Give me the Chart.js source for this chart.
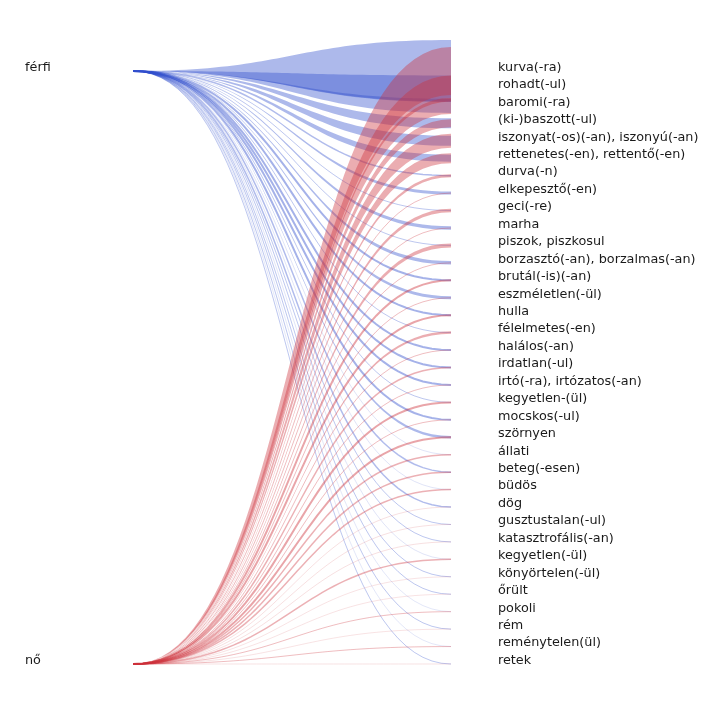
<!DOCTYPE html>
<html>
<head>
<meta charset="utf-8">
<script src="https://cdn.jsdelivr.net/npm/chart.js@4/dist/chart.umd.min.js"></script>
<style>
  html, body { margin: 0; background: #fff; }
</style>
</head>
<body>
<canvas id="flows" width="727" height="722"></canvas>
<script>
// sources on the left, targets on the right
const sources = ['férfi', 'nő'];
const targets = [
  'kurva(-ra)', 'rohadt(-ul)', 'baromi(-ra)', '(ki-)baszott(-ul)',
  'iszonyat(-os)(-an), iszonyú(-an)', 'rettenetes(-en), rettentő(-en)',
  'durva(-n)', 'elkepesztő(-en)', 'geci(-re)', 'marha', 'piszok, piszkosul',
  'borzasztó(-an), borzalmas(-an)', 'brutál(-is)(-an)', 'eszméletlen(-ül)',
  'hulla', 'félelmetes(-en)', 'halálos(-an)', 'irdatlan(-ul)',
  'irtó(-ra), irtózatos(-an)', 'kegyetlen-(ül)', 'mocskos(-ul)', 'szörnyen',
  'állati', 'beteg(-esen)', 'büdös', 'dög', 'gusztustalan(-ul)',
  'katasztrofális(-an)', 'kegyetlen(-ül)', 'könyörtelen(-ül)', 'őrült',
  'pokoli', 'rém', 'reménytelen(ül)', 'retek'
];

// flow sizes (férfi -> target, nő -> target)
const male   = [62, 26, 14, 10, 10, 7, 1.5, 3, 1, 3.5, 1, 3.5, 2, 3, 2, 1, 2, 2, 2, 1, 2, 2.5,
                0.5, 1.5, 0.5, 1.5, 1, 1, 0.5, 1, 1, 0.3, 1, 0.3, 1];
const female = [48, 26, 16, 8, 14, 10, 3, 1, 3.5, 1, 4, 1, 2, 1, 2, 2.5, 1, 1.5, 1, 2, 1, 2,
                1.5, 1.5, 1.5, 0.5, 0.5, 0.5, 1.5, 0.3, 0.3, 1, 0.3, 1, 0.3];

const colors = ['50, 80, 205', '205, 50, 60'];
const sourceRow = [0, targets.length - 1];
const valueToRows = 1 / 17.44;

// cubic bezier, horizontal at both ends
function curve(y0, y1) {
  const pts = [];
  for (let k = 0; k <= 48; k++) {
    const t = k / 48;
    pts.push({ x: 1.5 * t * (1 - t) + t * t * t, y: y0 + (y1 - y0) * (3 * t * t - 2 * t * t * t) });
  }
  return pts;
}

const datasets = [];
[male, female].forEach(function(values, s) {
  values.forEach(function(v, i) {
    const h = v * valueToRows;
    if (v >= 2.5) {
      datasets.push({ data: curve(sourceRow[s], i - h / 2), borderWidth: 0, pointRadius: 0,
                      fill: false, order: 2 - s });
      datasets.push({ data: curve(sourceRow[s], i + h / 2), borderWidth: 0, pointRadius: 0,
                      fill: '-1', backgroundColor: 'rgba(' + colors[s] + ', 0.4)', order: 2 - s });
    } else {
      const a = Math.min(0.6, 0.2 + 0.12 * v);
      datasets.push({ data: curve(sourceRow[s], i), borderWidth: Math.max(v, 0.6), pointRadius: 0,
                      fill: false, borderColor: 'rgba(' + colors[s] + ', ' + a + ')', order: 2 - s });
    }
  });
});

const labelFont = { family: 'DejaVu Sans', size: 12.8 };
const labelShift = 0.2;

// label axes: fixed width, no extra vertical padding from the tick padding
function fitWidth(w) {
  return function(s) { s.width = w; s.paddingTop = 0; s.paddingBottom = 0; };
}

new Chart(document.getElementById('flows'), {
  type: 'line',
  data: { datasets: datasets },
  options: {
    responsive: false,
    animation: false,
    layout: { padding: { left: 25, right: 0, top: 36.12, bottom: 31.84 } },
    plugins: { legend: { display: false }, tooltip: { enabled: false } },
    elements: { line: { tension: 0 } },
    scales: {
      x: { type: 'linear', min: 0, max: 1, display: false },
      y: { type: 'linear', reverse: true, min: -2, max: 35.5, display: false },
      ySrc: {
        type: 'linear', position: 'left', reverse: true,
        min: -2 + labelShift, max: 35.5 + labelShift,
        grid: { display: false, drawTicks: false }, border: { display: false },
        afterBuildTicks: function(s) { s.ticks = sourceRow.map(function(r) { return { value: r }; }); },
        afterFit: fitWidth(108),
        ticks: {
          autoSkip: false, crossAlign: 'far', padding: 0, color: '#1a1a1a', font: labelFont,
          callback: function(v) { return sources[sourceRow.indexOf(v)]; }
        }
      },
      yDst: {
        type: 'linear', position: 'right', reverse: true,
        min: -2 + labelShift, max: 35.5 + labelShift,
        grid: { display: false, drawTicks: false }, border: { display: false },
        afterBuildTicks: function(s) { s.ticks = targets.map(function(_, i) { return { value: i }; }); },
        afterFit: fitWidth(276),
        ticks: {
          autoSkip: false, padding: 47, color: '#1a1a1a', font: labelFont,
          callback: function(v) { return targets[v]; }
        }
      }
    }
  }
});
</script>
</body>
</html>
